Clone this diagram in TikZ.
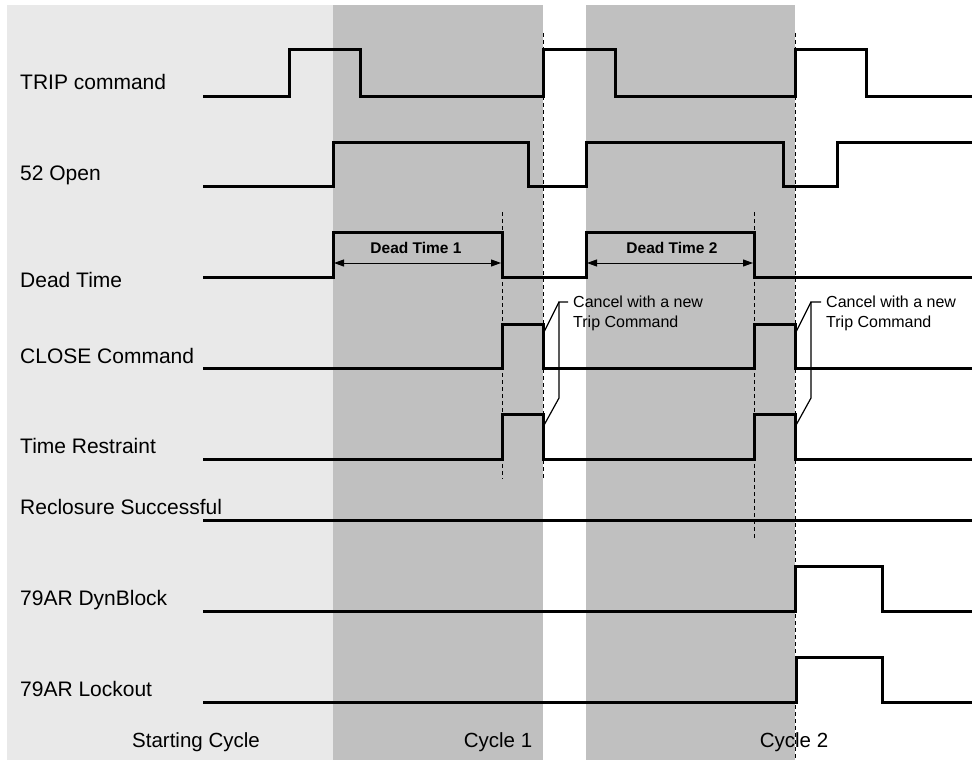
\documentclass[tikz,border=0pt]{standalone}
\usepackage{fontspec}
\setmainfont{Liberation Sans}
\usetikzlibrary{arrows.meta}
\definecolor{lightbg}{HTML}{E9E9E9}
\definecolor{cyclebg}{HTML}{C0C0C0}
\begin{document}
\begin{tikzpicture}[x=1pt,y=-1pt,
  sig/.style={line width=3pt,line join=miter},
  guide/.style={line width=0.9pt,dash pattern=on 4pt off 3pt},
  leader/.style={line width=1.2pt},
  span/.style={line width=1pt,{Triangle[length=10pt,width=7pt]}-{Triangle[length=10pt,width=7pt]}},
  lbl/.style={anchor=base west,inner sep=0pt,font=\fontsize{21}{24}\selectfont},
  cyc/.style={anchor=base,inner sep=0pt,font=\fontsize{20.5}{24}\selectfont},
  dtl/.style={anchor=base,inner sep=0pt,font=\fontsize{15.5}{18}\selectfont\bfseries},
  note/.style={anchor=base west,inner sep=0pt,font=\fontsize{16}{19}\selectfont}]
\useasboundingbox (0,0) rectangle (972,760);
\fill[white] (0,0) rectangle (972,760);
\fill[lightbg] (7,5) rectangle (333,760);
\fill[cyclebg] (333,5) rectangle (543,760);
\fill[cyclebg] (586,5) rectangle (795,760);

% guide lines
\draw[guide] (502,212) -- (502,479);
\draw[guide] (543,33) -- (543,479);
\draw[guide] (754,212) -- (754,538);
\draw[guide] (795,33) -- (795,760);

% signals
\draw[sig] (203,96) -| (289,50) -| (360,96) -| (543,50) -| (615,96) -| (795,50) -| (866,96) -- (972,96);
\draw[sig] (203,186) -| (333,142) -| (528,186) -| (586,142) -| (783,186) -| (837,142) -- (972,142);
\draw[sig] (203,277) -| (333,232) -| (502,277) -| (586,232) -| (754,277) -- (972,277);
\draw[sig] (203,368) -| (502,324) -| (543,368) -| (754,324) -| (795,368) -- (972,368);
\draw[sig] (203,459) -| (502,414) -| (543,459) -| (754,414) -| (795,459) -- (972,459);
\draw[sig] (203,520) -- (972,520);
\draw[sig] (203,611) -| (795,566) -| (882,611) -- (972,611);
\draw[sig] (203,702) -| (796,657) -| (882,702) -- (972,702);

% dead time spans
\coordinate (dt1a) at (334,263); \coordinate (dt1b) at (501,263);
\coordinate (dt2a) at (587,263); \coordinate (dt2b) at (753,263);
\draw[span] (dt1a) -- (dt1b);
\draw[span] (dt2a) -- (dt2b);
\node[dtl] (dt1) at (416,253) {Dead Time 1};
\node[dtl] (dt2) at (672,253) {Dead Time 2};

% cancel notes
\node[note] (c1a) at (573,307) {Cancel with a new};
\node[note] (c1b) at (573,327) {Trip Command};
\draw[leader] (568,302) -- (559,302) -- (559,398) -- (543,427);
\draw[leader] (559,302) -- (543,334);
\node[note] (c2a) at (826,307) {Cancel with a new};
\node[note] (c2b) at (826,327) {Trip Command};
\draw[leader] (821,302) -- (811,302) -- (811,398) -- (795,427);
\draw[leader] (811,302) -- (795,334);

% labels
\node[lbl] (l1) at (20,89) {TRIP command};
\node[lbl] (l2) at (20,180) {52 Open};
\node[lbl] (l3) at (20,287) {Dead Time};
\node[lbl] (l4) at (20,363) {CLOSE Command};
\node[lbl] (l5) at (20,453) {Time Restraint};
\node[lbl] (l6) at (20,514) {Reclosure Successful};
\node[lbl] (l7) at (20,605) {79AR DynBlock};
\node[lbl] (l8) at (20,696) {79AR Lockout};
\node[cyc] (s0) at (196,747) {Starting Cycle};
\node[cyc] (s1) at (498,747) {Cycle 1};
\node[cyc] (s2) at (794,747) {Cycle 2};
\end{tikzpicture}
\end{document}
